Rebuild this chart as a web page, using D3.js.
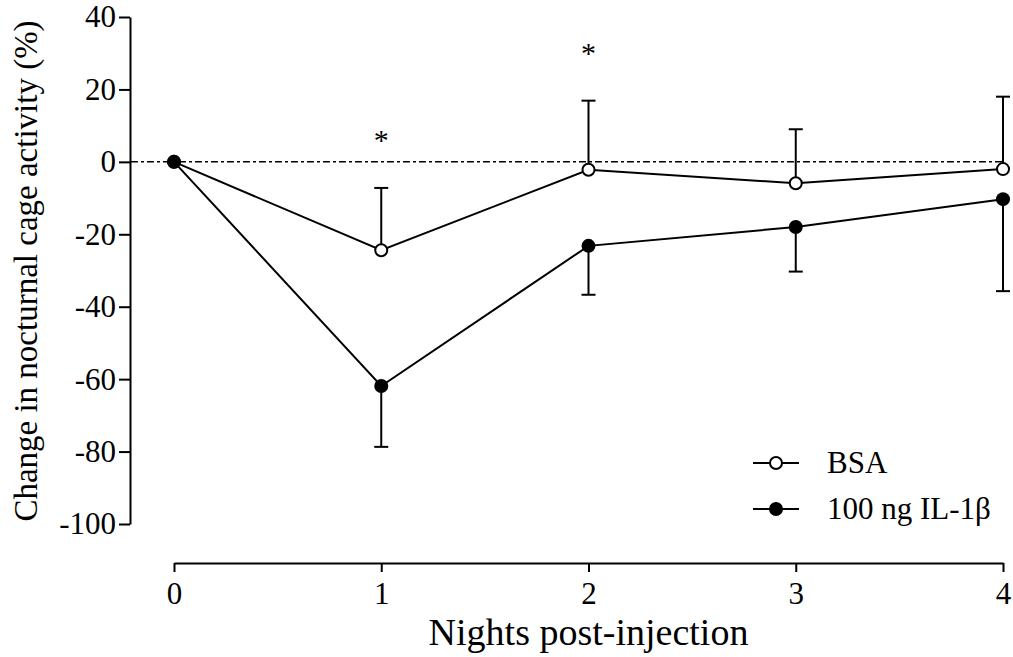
<!DOCTYPE html>
<html>
<head>
<meta charset="utf-8">
<script src="https://cdn.jsdelivr.net/npm/d3@7"></script>
<style>
	body { margin: 0; background: #fff; }
</style>
</head>
<body>
<div id="chart"></div>
<script>

var nights = [0, 1, 2, 3, 4];
var bsaMean = [0, -24.4, -2.2, -5.9, -2.0];
var bsaErr = [0, 17.2, 19.1, 14.9, 20.0];
var ilMean = [0, -61.9, -23.2, -18.0, -10.3];
var ilErr = [0, 16.8, 13.5, 12.3, 25.4];
var yTicks = [40, 20, 0, -20, -40, -60, -80, -100];
var stars = [{night: 1, value: 7.5}, {night: 2, value: 31.5}];
var legendNames = ['BSA', '100 ng IL-1\u03b2'];

var width = 1013, height = 657;
var serif = '"Liberation Serif", "Times New Roman", Times, serif';

var svg = d3.select('#chart').append('svg')
	.attr('width', width)
	.attr('height', height)
	.attr('font-family', serif);

var x = d3.scaleLinear().domain([0, 4]).range([174, 1003]);
var y = d3.scaleLinear().domain([-100, 40]).range([524, 17]);

// plain hyphen for negatives, like the original figure
var fmt = function(d) { return d < 0 ? '-' + Math.abs(d) : String(d); };

// y axis
var yAxis = d3.axisLeft(y).tickValues(yTicks).tickFormat(fmt).tickSize(11).tickPadding(3).tickSizeOuter(0);
var yAxisG = svg.append('g')
	.attr('transform', 'translate(130,0)')
	.call(yAxis);

// x axis, drawn below the plot
var xAxis = d3.axisBottom(x).tickValues(nights).tickFormat(fmt).tickSize(9).tickPadding(10).tickSizeOuter(0);
var xAxisG = svg.append('g')
	.attr('transform', 'translate(0,563)')
	.call(xAxis);

[yAxisG, xAxisG].forEach(function(g) {
	g.attr('font-family', serif).attr('font-size', 31);
	g.select('.domain').attr('stroke', '#000').attr('stroke-width', 2);
	g.selectAll('.tick line').attr('stroke', '#000').attr('stroke-width', 2);
	g.selectAll('.tick text').attr('fill', '#000');
});

// axis titles
svg.append('text')
	.attr('x', x(2))
	.attr('y', 645)
	.attr('text-anchor', 'middle')
	.attr('font-size', 38)
	.text('Nights post-injection');

svg.append('text')
	.attr('transform', 'translate(37,' + 271 + ') rotate(-90)')
	.attr('text-anchor', 'middle')
	.attr('font-size', 33)
	.text('Change in nocturnal cage activity (%)');

// zero reference line
svg.append('line')
	.attr('x1', 131)
	.attr('x2', x(4))
	.attr('y1', y(0))
	.attr('y2', y(0))
	.attr('stroke', '#000')
	.attr('stroke-width', 1.5)
	.attr('stroke-dasharray', '7,3,3,3');

var line = d3.line()
	.x(function(d, i) { return x(nights[i]); })
	.y(function(d) { return y(d); });

// error bars: BSA up, IL-1b down
function errorBars(mean, err, dir) {
	var g = svg.append('g');
	nights.forEach(function(n, i) {
		if (err[i] === 0) return;
		var end = mean[i] + dir * err[i];
		g.append('line')
			.attr('x1', x(n)).attr('x2', x(n))
			.attr('y1', y(mean[i])).attr('y2', y(end))
			.attr('stroke', '#000').attr('stroke-width', 2);
		g.append('line')
			.attr('x1', x(n) - 7).attr('x2', x(n) + 7)
			.attr('y1', y(end)).attr('y2', y(end))
			.attr('stroke', '#000').attr('stroke-width', 2);
	});
}
errorBars(bsaMean, bsaErr, 1);
errorBars(ilMean, ilErr, -1);

svg.append('path')
	.datum(bsaMean)
	.attr('d', line)
	.attr('fill', 'none')
	.attr('stroke', '#000')
	.attr('stroke-width', 2);

svg.append('path')
	.datum(ilMean)
	.attr('d', line)
	.attr('fill', 'none')
	.attr('stroke', '#000')
	.attr('stroke-width', 2);

svg.selectAll('.bsa')
	.data(bsaMean)
	.enter().append('circle')
	.attr('class', 'bsa')
	.attr('cx', function(d, i) { return x(nights[i]); })
	.attr('cy', function(d) { return y(d); })
	.attr('r', 6)
	.attr('fill', '#fff')
	.attr('stroke', '#000')
	.attr('stroke-width', 2);

svg.selectAll('.il')
	.data(ilMean)
	.enter().append('circle')
	.attr('class', 'il')
	.attr('cx', function(d, i) { return x(nights[i]); })
	.attr('cy', function(d) { return y(d); })
	.attr('r', 7)
	.attr('fill', '#000');

// significance marks
svg.selectAll('.star')
	.data(stars)
	.enter().append('text')
	.attr('class', 'star')
	.attr('x', function(d) { return x(d.night); })
	.attr('y', function(d) { return y(d.value) + 15; })
	.attr('text-anchor', 'middle')
	.attr('font-size', 30)
	.text('*');

// legend
var legend = svg.append('g').attr('transform', 'translate(753,463)');
legendNames.forEach(function(name, i) {
	var row = legend.append('g').attr('transform', 'translate(0,' + (i * 46) + ')');
	row.append('line')
		.attr('x1', 0).attr('x2', 46)
		.attr('stroke', '#000').attr('stroke-width', 2);
	row.append('circle')
		.attr('cx', 23)
		.attr('r', i === 0 ? 6 : 7)
		.attr('fill', i === 0 ? '#fff' : '#000')
		.attr('stroke', '#000')
		.attr('stroke-width', i === 0 ? 2 : 0);
	row.append('text')
		.attr('x', 74)
		.attr('y', 10)
		.attr('font-size', 31)
		.text(name);
});

</script>
</body>
</html>
